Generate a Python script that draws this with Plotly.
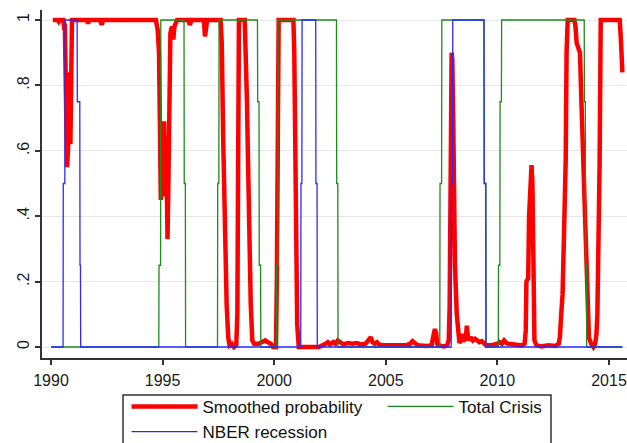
import plotly.graph_objects as go

# ---------------- data ----------------
red_t = [1990.08, 1990.3, 1990.35, 1990.4, 1990.55, 1990.6, 1990.62, 1990.66, 1990.72, 1990.76,
         1990.8, 1990.84, 1990.87, 1990.9, 1990.94, 1991.6, 1991.66, 1991.72, 1992.2, 1992.27,
         1992.34, 1994.7, 1994.78, 1994.84, 1994.88, 1994.92, 1994.97, 1995.02, 1995.07, 1995.12,
         1995.17, 1995.22, 1995.26, 1995.3, 1995.35, 1995.42, 1995.48, 1995.53, 1995.58, 1995.65,
         1996.15, 1996.22, 1996.3, 1996.85, 1996.9, 1996.95, 1997.0, 1997.6, 1997.65, 1997.72,
         1997.8, 1997.87, 1997.94, 1998.0, 1998.1, 1998.2, 1998.3, 1998.35, 1998.38, 1998.42,
         1998.68, 1998.72, 1998.78, 1998.83, 1998.88, 1998.95, 1999.02, 1999.1, 1999.3, 1999.5,
         1999.6, 1999.7, 1999.85, 1999.95, 2000.08, 2000.12, 2000.16, 2000.2, 2000.86, 2000.9,
         2000.94, 2000.97, 2001.0, 2001.03, 2001.1, 2001.5, 2001.8, 2002.0, 2002.3, 2002.4,
         2002.5, 2002.65, 2002.75, 2002.85, 2002.95, 2003.1, 2003.3, 2003.5, 2003.7, 2003.9,
         2004.1, 2004.25, 2004.33, 2004.4, 2004.5, 2004.6, 2004.7, 2004.9, 2005.3, 2005.6,
         2005.9, 2006.1, 2006.2, 2006.3, 2006.45, 2006.8, 2007.05, 2007.12, 2007.2, 2007.26,
         2007.3, 2007.4, 2007.6, 2007.75, 2007.82, 2007.86, 2007.9, 2007.95, 2007.98, 2008.02,
         2008.06, 2008.1, 2008.18, 2008.24, 2008.3, 2008.36, 2008.42, 2008.47, 2008.52, 2008.58,
         2008.63, 2008.68, 2008.74, 2008.8, 2008.9, 2009.0, 2009.1, 2009.2, 2009.3, 2009.4,
         2009.5, 2009.7, 2009.9, 2010.0, 2010.1, 2010.2, 2010.3, 2010.4, 2010.5, 2010.7,
         2010.9, 2011.1, 2011.22, 2011.27, 2011.3, 2011.38, 2011.42, 2011.48, 2011.53, 2011.57,
         2011.6, 2011.63, 2011.66, 2011.75, 2012.0, 2012.3, 2012.6, 2012.75, 2012.8, 2012.86,
         2012.92, 2012.97, 2013.02, 2013.06, 2013.1, 2013.15, 2013.45, 2013.5, 2013.55, 2013.7,
         2013.77, 2013.85, 2013.92, 2013.98, 2014.04, 2014.1, 2014.2, 2014.3, 2014.38, 2014.44,
         2014.48, 2014.54, 2014.58, 2014.63, 2015.48, 2015.53, 2015.57, 2015.6]
red_p = [1.0, 1.0, 0.995, 1.0, 1.0, 0.97, 0.99, 0.65, 0.55, 0.6,
         0.84, 0.84, 0.62, 0.85, 1.0, 1.0, 0.99, 1.0, 1.0, 0.985,
         1.0, 1.0, 0.97, 0.9, 0.6, 0.45, 0.68, 0.46, 0.69, 0.5,
         0.6, 0.33, 0.5, 0.88, 0.96, 0.98, 0.94, 0.98, 0.99, 1.0,
         1.0, 0.985, 1.0, 1.0, 0.95, 0.97, 1.0, 1.0, 0.93, 0.62,
         0.29, 0.13, 0.03, 0.005, 0.01, 0.0, 0.005, 0.1, 0.5, 1.0,
         1.0, 0.92, 0.75, 0.56, 0.3, 0.13, 0.02, 0.01, 0.01, 0.015,
         0.02, 0.015, 0.01, 0.0, 0.0, 0.21, 0.7, 1.0, 1.0, 0.9,
         0.65, 0.4, 0.2, 0.07, 0.0, 0.0, 0.003, 0.0, 0.01, 0.015,
         0.008, 0.015, 0.01, 0.02, 0.015, 0.008, 0.012, 0.01, 0.012, 0.008,
         0.01, 0.02, 0.03, 0.015, 0.01, 0.015, 0.008, 0.005, 0.005, 0.003,
         0.005, 0.01, 0.018, 0.012, 0.005, 0.003, 0.005, 0.03, 0.055, 0.04,
         0.01, 0.005, 0.002, 0.005, 0.02, 0.12, 0.53, 0.9, 0.88, 0.7,
         0.42, 0.25, 0.1, 0.03, 0.012, 0.02, 0.04, 0.015, 0.03, 0.02,
         0.065, 0.03, 0.02, 0.03, 0.02, 0.025, 0.02, 0.015, 0.018, 0.01,
         0.005, 0.005, 0.008, 0.01, 0.015, 0.01, 0.02, 0.012, 0.01, 0.008,
         0.005, 0.005, 0.01, 0.05, 0.2, 0.21, 0.4, 0.52, 0.556, 0.5,
         0.3, 0.1, 0.02, 0.005, 0.002, 0.005, 0.003, 0.01, 0.03, 0.1,
         0.16, 0.3, 0.45, 0.57, 0.9, 1.0, 1.0, 0.98, 0.93, 0.9,
         0.74, 0.55, 0.4, 0.33, 0.1, 0.03, 0.01, 0.0, 0.01, 0.04,
         0.1, 0.3, 0.56, 1.0, 1.0, 0.945, 0.84, 0.84]

crisis_t = [1990.0, 1994.83, 1994.84, 1994.91, 1994.92, 1995.96, 1995.97, 1996.02, 1996.03,
            1997.46, 1997.47, 1997.52, 1997.53, 1999.25, 1999.26, 1999.32, 1999.33, 1999.39, 1999.4,
            2000.1, 2000.11, 2000.16, 2000.17, 2002.79, 2002.8, 2002.85, 2002.86,
            2007.42, 2007.43, 2007.5, 2007.51, 2009.4, 2009.41, 2009.48, 2009.49,
            2010.04, 2010.05, 2010.11, 2010.12, 2010.18, 2010.19, 2013.89, 2013.9, 2013.94, 2013.95,
            2013.99, 2014.0, 2015.6]
crisis_v = [0, 0, 0.25, 0.25, 1, 1, 0.5, 0.5, 0,
            0, 0.5, 0.5, 1, 1, 0.75, 0.75, 0.25, 0.25, 0,
            0, 0.25, 0.25, 1, 1, 0.5, 0.5, 0,
            0, 0.5, 0.5, 1, 1, 0.5, 0.5, 0,
            0, 0.25, 0.25, 0.75, 0.75, 1, 1, 0.75, 0.75, 0.25,
            0.25, 0, 0]

nber_t = [1990.0, 1990.54, 1990.55, 1990.62, 1990.63, 1991.17, 1991.18, 1991.29, 1991.3, 1991.32, 1991.33,
          2001.19, 2001.2, 2001.24, 2001.25, 2001.86, 2001.87, 2001.92, 2001.93,
          2007.93, 2007.94, 2007.99, 2008.0, 2009.4, 2009.41, 2009.48, 2009.49, 2015.6]
nber_v = [0, 0, 0.5, 0.5, 1, 1, 0.75, 0.75, 0.25, 0.25, 0,
          0, 0.5, 0.5, 1, 1, 0.5, 0.5, 0,
          0, 0.5, 0.5, 1, 1, 0.5, 0.5, 0, 0]

x_ticks = [1990, 1995, 2000, 2005, 2010, 2015]
y_ticks = [0, 0.2, 0.4, 0.6, 0.8, 1]
y_tick_text = ["0", ".2", ".4", ".6", ".8", "1"]

# ---------------- figure ----------------
FONT = "Liberation Sans, Arial, sans-serif"

fig = go.Figure()
fig.add_trace(go.Scatter(x=red_t, y=red_p, mode="lines", name="Smoothed probability",
                         line=dict(color="#ff0000", width=4.5)))
fig.add_trace(go.Scatter(x=crisis_t, y=crisis_v, mode="lines", name="Total Crisis",
                         line=dict(color="#1a8c1a", width=1.3)))
fig.add_trace(go.Scatter(x=nber_t, y=nber_v, mode="lines", name="NBER recession",
                         line=dict(color="#2a2aff", width=1.3)))

# frame of the legend (Stata-style box, its lower edge falls outside the picture)
fig.add_shape(type="rect", xref="paper", yref="paper",
              x0=0.1385, x1=0.8701, y0=-0.1063, y1=-0.30,
              line=dict(color="#333333", width=1.5), fillcolor="white", layer="below")

fig.update_layout(
    width=627, height=443,
    margin=dict(l=42, r=0, t=10, b=85, autoexpand=False),
    paper_bgcolor="white", plot_bgcolor="white",
    font=dict(family=FONT, color="#1a1a1a"),
    showlegend=True,
    legend=dict(
        orientation="h", x=0.1445, y=-0.0888, xanchor="left", yanchor="top",
        borderwidth=0, bgcolor="rgba(0,0,0,0)",
        font=dict(size=17, family=FONT, color="#111111"),
        itemwidth=66, entrywidth=175, traceorder="normal",
    ),
    xaxis=dict(
        range=[1989.597, 2015.807], tickmode="array", tickvals=x_ticks,
        ticks="outside", ticklen=5, tickwidth=1.5, tickcolor="#333333",
        showline=True, linecolor="#333333", linewidth=2,
        showgrid=False, zeroline=False,
        tickfont=dict(size=16, family=FONT, color="#1a1a1a"),
        ticklabelstandoff=2,
    ),
    yaxis=dict(
        range=[-0.03364, 1.0306], tickmode="array", tickvals=y_ticks, ticktext=y_tick_text,
        tickangle=-90,
        ticks="outside", ticklen=5, tickwidth=1.5, tickcolor="#333333",
        showline=True, linecolor="#333333", linewidth=2,
        showgrid=True, gridcolor="#e8e8e8", gridwidth=1, zeroline=False,
        tickfont=dict(size=16, family=FONT, color="#1a1a1a"),
        ticklabelstandoff=0,
    ),
)

fig.write_html("out.html", config={"displayModeBar": False},
               post_script="document.body.style.margin='0';")
